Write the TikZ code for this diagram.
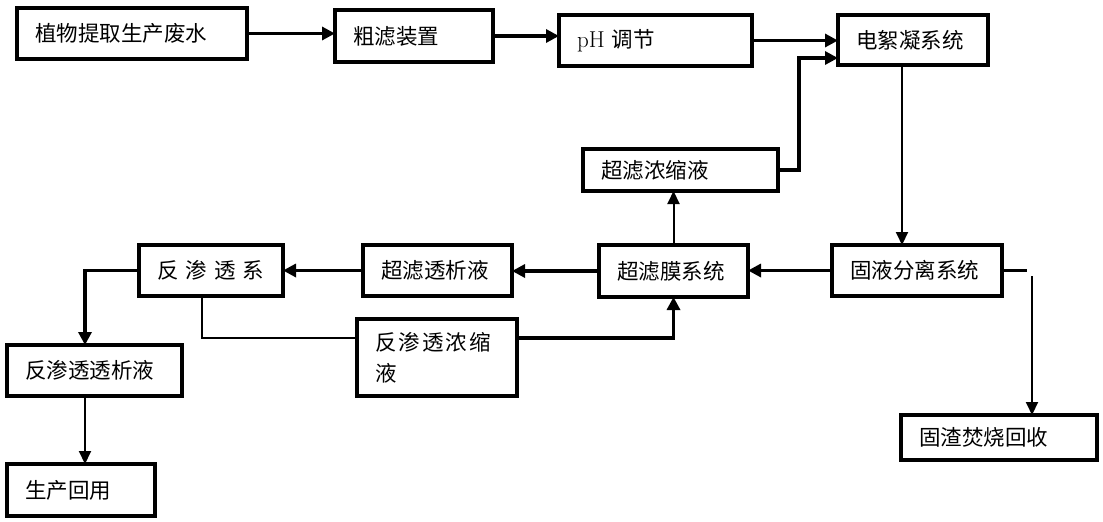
\documentclass[tikz,border=0pt]{standalone}
\usepackage{fontspec}
\newfontfamily\cjk{Noto Sans CJK SC}
\usetikzlibrary{arrows.meta, calc, positioning}
\tikzstyle{block} = [draw, line width=3.2pt, anchor=north west, inner xsep=18pt, inner ysep=0pt, outer sep=0pt, align=left, font=\cjk\fontsize{21.5}{31}\selectfont]
\tikzstyle{arrow} = [line width=3.2pt, -{Triangle[length=13pt,width=13pt]}]
\tikzstyle{thinarrow} = [line width=2pt, -{Triangle[length=13pt,width=12pt]}]
\tikzstyle{link} = [line width=3.2pt]
\tikzstyle{thinlink} = [line width=2.2pt]

\begin{document}
\begin{tikzpicture}[x=1pt, y=-1pt]
	\useasboundingbox (0,0) rectangle (1103,522);
	% pretreatment line
	\node (raw) [block, text width=194pt, minimum height=51pt] at (17,8) {植物提取生产废水};
	\node (coarse) [block, text width=122pt, minimum height=52pt] at (335,10) {粗滤装置};
	\node (ph) [block, text width=157pt, minimum height=51pt] at (559,15) {{\rmfamily\fontsize{23}{31}\selectfont pH} 调节};
	\node (ec) [block, text width=114pt, minimum height=50pt] at (838,15) {电絮凝系统};
	\node (ufc) [block, text width=159pt, minimum height=42pt] at (583,149) {超滤浓缩液};
	% separation and membranes
	\node (sl) [block, text width=134pt, minimum height=51pt] at (832,245) {固液分离系统};
	\node (uf) [block, text width=113pt, minimum height=52pt] at (599,245) {超滤膜系统};
	\node (ufp) [block, text width=113pt, minimum height=51pt] at (363,245) {超滤透析液};
	\node (ro) [block, text width=108pt, minimum height=51pt] at (139,245) {反 渗 透 系};
	\node (roc) [block, text width=124pt, minimum height=77pt] at (357,319) {反\kern2pt 渗\kern2pt 透\kern2pt 浓\kern2pt 缩\\液};
	\node (rop) [block, text width=139pt, minimum height=51pt] at (7,345) {反渗透透析液};
	\node (reuse) [block, text width=112pt, minimum height=52pt] at (7,464) {生产回用};
	\node (slag) [block, text width=160pt, minimum height=45pt] at (901,415) {固渣焚烧回收};

	\draw[arrow] (raw.east) -- (raw.east -| coarse.west);
	\draw[arrow] (coarse.east) -- (coarse.east -| ph.west);
	\draw[arrow] (ph.east) -- (ph.east -| ec.west);
	\draw[arrow] (ufc.east) -- ++(21,0) |- ([yshift=-18pt]ec.west);
	\draw[thinarrow] ([xshift=-11pt]ec.south) -- ([xshift=-11pt]ec.south |- sl.north);
	\draw[arrow] (sl.west) -- (sl.west -| uf.east);
	\draw[arrow] (uf.west) -- (uf.west -| ufp.east);
	\draw[arrow] (ufp.west) -- (ufp.west -| ro.east);
	\draw[arrow] (ro.west) -| ([xshift=-9.5pt]rop.north);
	\draw[thinarrow] ([xshift=-9.5pt]rop.south) -- ([xshift=-9.5pt]rop.south |- reuse.north);
	\draw[thinlink] ([xshift=-9pt]ro.south) |- ([yshift=19.5pt]roc.west);
	\draw[arrow] ([yshift=19.5pt]roc.east) -| (uf.south);
	\draw[thinarrow] (uf.north) -- (uf.north |- ufc.south);
	% solids branch
	\draw[link] (sl.east) -- ++(25,0);
	\coordinate (slagtop) at (1032,276);
	\draw[thinarrow] (slagtop) -- (slagtop |- slag.north);
\end{tikzpicture}
\end{document}
